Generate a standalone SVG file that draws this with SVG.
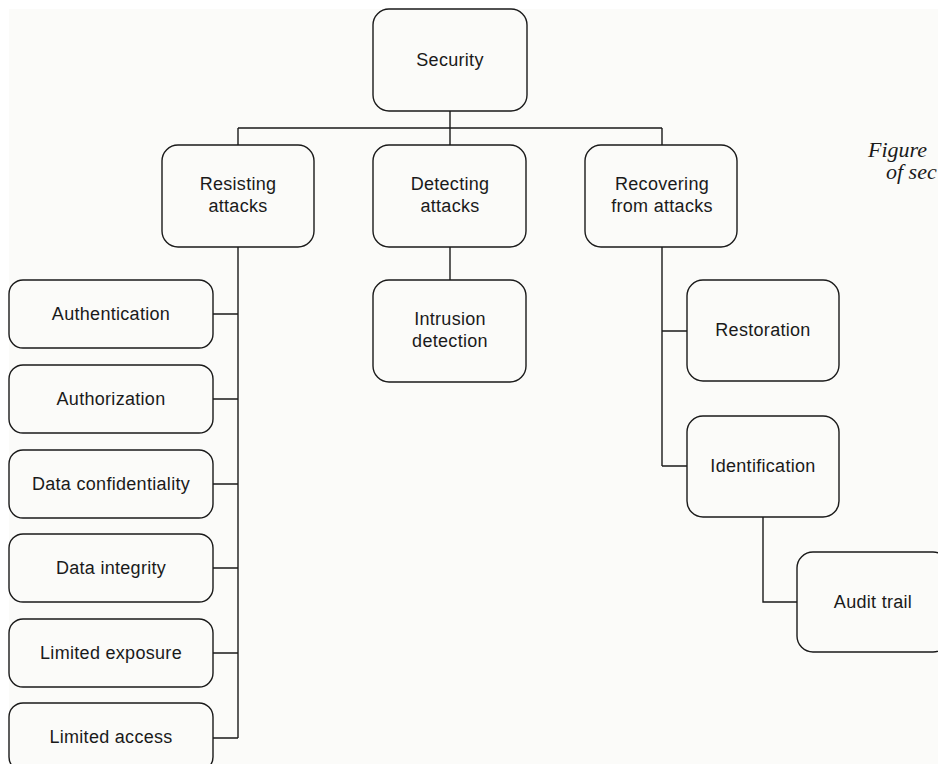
<svg xmlns="http://www.w3.org/2000/svg" width="938" height="764" viewBox="0 0 938 764">
<style>
.box{fill:none;stroke:#1a1a1a;stroke-width:1.4}
.lbl{font-family:"Liberation Sans",Arial,sans-serif;font-size:18px;letter-spacing:0.3px;fill:#1a1a1a;text-anchor:middle}
.con{fill:none;stroke:#1a1a1a;stroke-width:1.4}
.cap{font-family:"Liberation Serif","Times New Roman",serif;font-style:italic;font-size:22px;fill:#1a1a1a}
</style>
<rect x="0" y="0" width="938" height="764" fill="#ffffff"/>
<rect x="9" y="9" width="929" height="755" fill="#fbfbf9"/>
<g id="connectors">
<path class="con" d="M450 111V128M238 128H662M238 128V145M450 128V145M662 128V145"/>
<path class="con" d="M238 247V738M213 314H238M213 399H238M213 484H238M213 568H238M213 653H238M213 738H238"/>
<path class="con" d="M450 247V280"/>
<path class="con" d="M662 247V466M662 331H687M662 466H687"/>
<path class="con" d="M763 517V602H797"/>
</g>
<g id="security"><rect class="box" x="373" y="9" width="154" height="102" rx="16"/><text class="lbl" x="450" y="66">Security</text></g>
<g id="resisting"><rect class="box" x="162" y="145" width="152" height="102" rx="16"/><text class="lbl" x="238" y="190">Resisting</text><text class="lbl" x="238" y="212">attacks</text></g>
<g id="detecting"><rect class="box" x="373" y="145" width="153" height="102" rx="16"/><text class="lbl" x="450" y="190">Detecting</text><text class="lbl" x="450" y="212">attacks</text></g>
<g id="recovering"><rect class="box" x="585" y="145" width="152" height="102" rx="16"/><text class="lbl" x="662" y="190">Recovering</text><text class="lbl" x="662" y="212">from attacks</text></g>
<g id="intrusion"><rect class="box" x="373" y="280" width="153" height="102" rx="16"/><text class="lbl" x="450" y="325">Intrusion</text><text class="lbl" x="450" y="347">detection</text></g>
<g id="restoration"><rect class="box" x="687" y="280" width="152" height="101" rx="16"/><text class="lbl" x="763" y="336">Restoration</text></g>
<g id="identification"><rect class="box" x="687" y="416" width="152" height="101" rx="16"/><text class="lbl" x="763" y="472">Identification</text></g>
<g id="audit"><rect class="box" x="797" y="552" width="152" height="100" rx="16"/><text class="lbl" x="873" y="608">Audit trail</text></g>
<g id="authentication"><rect class="box" x="9" y="280" width="204" height="68" rx="14"/><text class="lbl" x="111" y="320">Authentication</text></g>
<g id="authorization"><rect class="box" x="9" y="365" width="204" height="68" rx="14"/><text class="lbl" x="111" y="405">Authorization</text></g>
<g id="confidentiality"><rect class="box" x="9" y="450" width="204" height="68" rx="14"/><text class="lbl" x="111" y="490">Data confidentiality</text></g>
<g id="integrity"><rect class="box" x="9" y="534" width="204" height="68" rx="14"/><text class="lbl" x="111" y="574">Data integrity</text></g>
<g id="exposure"><rect class="box" x="9" y="619" width="204" height="68" rx="14"/><text class="lbl" x="111" y="659">Limited exposure</text></g>
<g id="access"><rect class="box" x="9" y="703" width="204" height="68" rx="14"/><text class="lbl" x="111" y="743">Limited access</text></g>
<g id="caption"><text class="cap" x="868" y="157">Figure</text><text class="cap" x="886" y="179">of sec</text></g>
</svg>
